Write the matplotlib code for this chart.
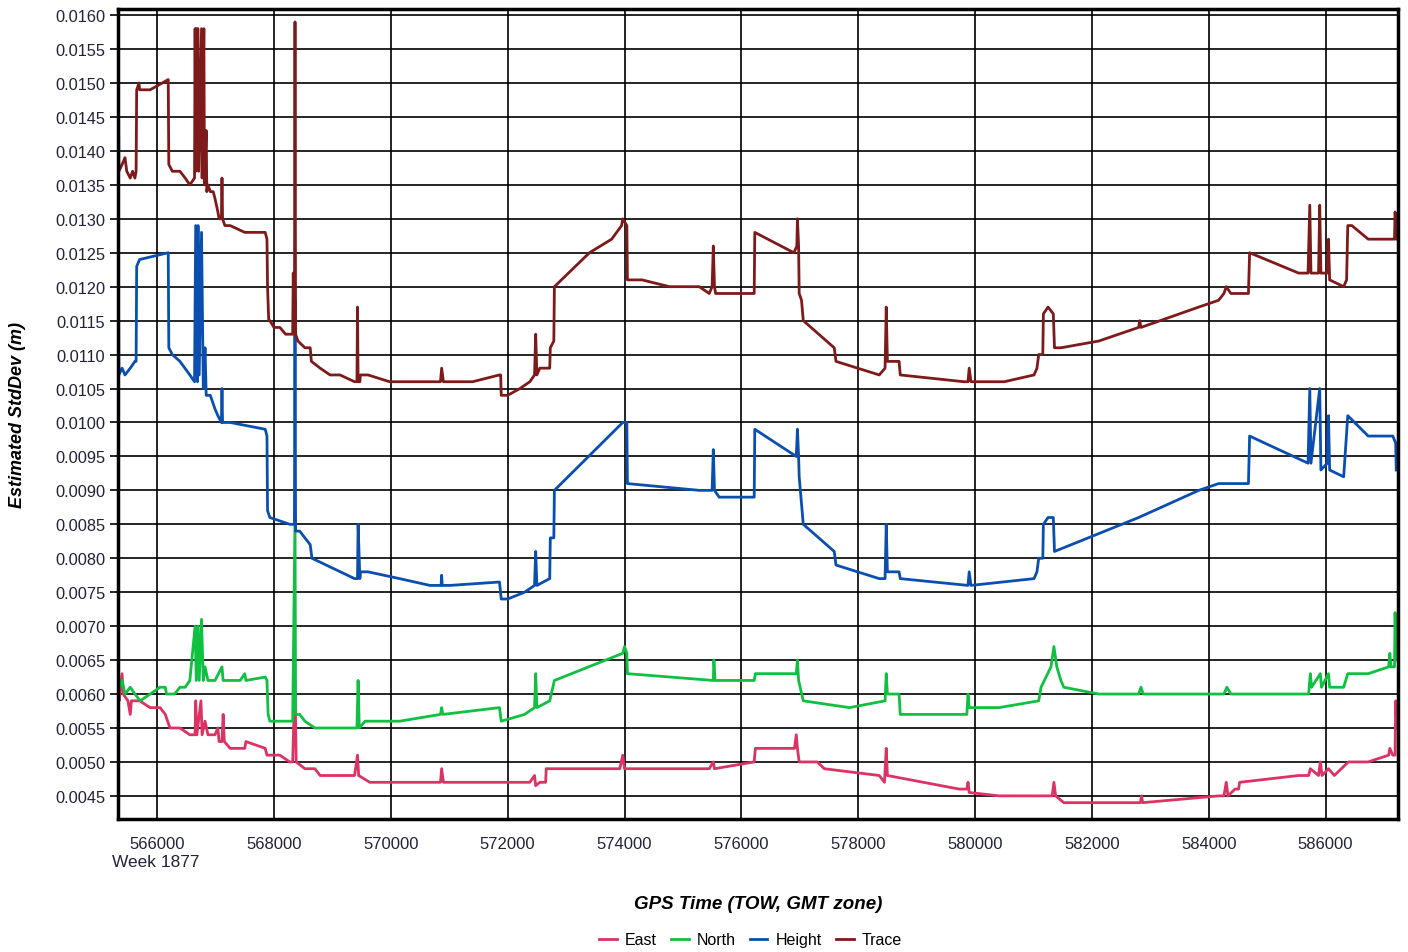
import matplotlib.pyplot as plt
from matplotlib.ticker import FormatStrFormatter

plt.rcParams["font.family"] = ["Liberation Sans", "DejaVu Sans"]

# GPS time of week (s) and estimated std dev (m)
trace_t = [565340, 565345, 565400, 565450, 565480, 565540, 565580, 565620, 565640, 565650,
           565690, 565700, 565880, 566190, 566200, 566260, 566390, 566480, 566560, 566640,
           566650, 566660, 566670, 566700, 566710, 566720, 566760, 566770, 566800, 566810,
           566840, 566850, 566870, 566910, 566960, 566990, 567040, 567060, 567100, 567110,
           567120, 567160, 567250, 567500, 567590, 567850, 567880, 567890, 567910, 567930,
           568000, 568100, 568200, 568320, 568330, 568350, 568360, 568370, 568410, 568530,
           568620, 568640, 568790, 568960, 569130, 569380, 569420, 569430, 569440, 569470,
           569480, 569610, 569980, 570670, 570850, 570870, 570900, 571010, 571400, 571860,
           571880, 571890, 572000, 572210, 572380, 572460, 572480, 572500, 572550, 572720,
           572730, 572790, 572800, 573400, 573780, 573950, 573970, 574040, 574050, 574300,
           574770, 575280, 575450, 575500, 575520, 575540, 575560, 575620, 576220, 576230,
           576900, 576950, 576960, 576980, 576990, 577030, 577060, 577590, 577620, 578360,
           578460, 578480, 578500, 578700, 578720, 579810, 579880, 579900, 579930, 580070,
           580500, 581010, 581060, 581090, 581160, 581170, 581250, 581340, 581360, 581470,
           582120, 582800, 582820, 582840, 583830, 584170, 584260, 584300, 584380, 584680,
           584700, 585540, 585700, 585730, 585750, 585880, 585900, 585920, 586030, 586050,
           586070, 586310, 586360, 586380, 586450, 586730, 587080, 587180, 587190, 587220]
trace_v = [0.0147, 0.0137, 0.0138, 0.0139, 0.0137, 0.0136, 0.0137, 0.0136, 0.0137, 0.0149,
           0.0150, 0.0149, 0.0149, 0.01505, 0.0138, 0.0137, 0.0137, 0.0136, 0.0135, 0.0136,
           0.0158, 0.0137, 0.0158, 0.0158, 0.0137, 0.0140, 0.0158, 0.0136, 0.0158, 0.0135,
           0.0143, 0.0134, 0.0135, 0.0134, 0.0134, 0.0133, 0.0131, 0.0130, 0.0130, 0.0136,
           0.0130, 0.0129, 0.0129, 0.0128, 0.0128, 0.0128, 0.0127, 0.0120, 0.0115, 0.0115,
           0.0114, 0.0114, 0.0113, 0.0113, 0.0122, 0.0113, 0.0159, 0.0113, 0.0112, 0.0111,
           0.0111, 0.0109, 0.0108, 0.0107, 0.0107, 0.0106, 0.0106, 0.0117, 0.0106, 0.0106,
           0.0107, 0.0107, 0.0106, 0.0106, 0.0106, 0.0108, 0.0106, 0.0106, 0.0106, 0.0107,
           0.0107, 0.0104, 0.0104, 0.0105, 0.0106, 0.0107, 0.0113, 0.0107, 0.0108, 0.0108,
           0.0111, 0.0112, 0.0120, 0.0125, 0.0127, 0.0129, 0.0130, 0.0129, 0.0121, 0.0121,
           0.0120, 0.0120, 0.0119, 0.0120, 0.0126, 0.0120, 0.0119, 0.0119, 0.0119, 0.0128,
           0.0125, 0.0126, 0.0130, 0.0126, 0.0119, 0.0118, 0.0115, 0.0111, 0.0109, 0.0107,
           0.0108, 0.0117, 0.0109, 0.0109, 0.0107, 0.0106, 0.0106, 0.0108, 0.0106, 0.0106,
           0.0106, 0.0107, 0.0108, 0.0110, 0.0110, 0.0116, 0.0117, 0.0116, 0.0111, 0.0111,
           0.0112, 0.0114, 0.0115, 0.0114, 0.0117, 0.0118, 0.0119, 0.0120, 0.0119, 0.0119,
           0.0125, 0.0122, 0.0122, 0.0132, 0.0122, 0.0122, 0.0132, 0.0122, 0.0122, 0.0127,
           0.0121, 0.0120, 0.0121, 0.0129, 0.0129, 0.0127, 0.0127, 0.0127, 0.0131, 0.0127]

height_t = [565340, 565345, 565400, 565450, 565540, 565620, 565640, 565650, 565700, 566190,
            566200, 566260, 566390, 566560, 566640, 566660, 566690, 566700, 566720, 566760,
            566790, 566820, 566840, 566910, 566990, 567040, 567100, 567110, 567120, 567250,
            567850, 567880, 567890, 567930, 568270, 568350, 568360, 568370, 568440, 568620,
            568650, 569380, 569430, 569440, 569470, 569480, 569610, 570150, 570670, 570860,
            570870, 570880, 571010, 571860, 571890, 572000, 572290, 572460, 572480, 572500,
            572720, 572730, 572790, 572800, 573970, 574040, 574050, 575280, 575500, 575520,
            575540, 575620, 576220, 576230, 576940, 576960, 576980, 576990, 577060, 577590,
            577620, 578360, 578460, 578480, 578500, 578700, 578720, 579880, 579900, 579930,
            581010, 581060, 581090, 581160, 581170, 581250, 581340, 581360, 582800, 583830,
            584170, 584680, 584700, 585700, 585730, 585750, 585900, 585920, 586030, 586050,
            586070, 586310, 586380, 586730, 587150, 587200, 587210]
height_v = [0.0118, 0.0107, 0.0108, 0.0107, 0.0108, 0.0109, 0.0109, 0.0123, 0.0124, 0.0125,
            0.0111, 0.0110, 0.0109, 0.0107, 0.0106, 0.0129, 0.0106, 0.0129, 0.0107, 0.0128,
            0.0105, 0.0111, 0.0104, 0.0104, 0.0102, 0.0101, 0.0100, 0.0105, 0.0100, 0.0100,
            0.0099, 0.0098, 0.0087, 0.0086, 0.0085, 0.0085, 0.0118, 0.0084, 0.0084, 0.0082,
            0.0080, 0.0077, 0.0077, 0.0085, 0.0077, 0.0078, 0.0078, 0.0077, 0.0076, 0.0076,
            0.00775, 0.0076, 0.0076, 0.00765, 0.0074, 0.0074, 0.0075, 0.0076, 0.0081, 0.0076,
            0.0077, 0.0083, 0.0083, 0.0090, 0.0100, 0.0100, 0.0091, 0.0090, 0.0090, 0.0096,
            0.0090, 0.0089, 0.0089, 0.0099, 0.0095, 0.0099, 0.0095, 0.0092, 0.0085, 0.0081,
            0.0079, 0.0077, 0.0077, 0.0085, 0.0078, 0.0078, 0.0077, 0.0076, 0.0078, 0.0076,
            0.0077, 0.0078, 0.0080, 0.0080, 0.0085, 0.0086, 0.0086, 0.0081, 0.0086, 0.0090,
            0.0091, 0.0091, 0.0098, 0.0094, 0.0105, 0.0094, 0.0105, 0.0093, 0.0094, 0.0101,
            0.0093, 0.0092, 0.0101, 0.0098, 0.0098, 0.0097, 0.0093]

north_t = [565340, 565360, 565400, 565450, 565540, 565620, 565710, 565880, 566050, 566140,
           566160, 566300, 566390, 566480, 566560, 566650, 566670, 566700, 566720, 566760,
           566790, 566820, 566870, 566990, 567110, 567130, 567420, 567500, 567520, 567850,
           567880, 567900, 567930, 568100, 568320, 568360, 568370, 568440, 568530, 568700,
           569420, 569440, 569460, 569560, 570150, 570850, 570870, 570890, 571860, 571890,
           572290, 572460, 572480, 572500, 572720, 572800, 573970, 574000, 574040, 574050,
           575520, 575530, 575550, 576220, 576240, 576940, 576960, 576980, 577060, 577850,
           578460, 578480, 578500, 578700, 578720, 579860, 579880, 579900, 580410, 581090,
           581130, 581300, 581350, 581400, 581470, 581520, 582120, 582800, 582840, 582880,
           584260, 584310, 584380, 585710, 585740, 585760, 585910, 585930, 586050, 586070,
           586310, 586380, 586730, 587080, 587100, 587120, 587180, 587190, 587210]
north_v = [0.0063, 0.0061, 0.0062, 0.0060, 0.0061, 0.0060, 0.0059, 0.0060, 0.0061, 0.0061,
           0.0060, 0.0060, 0.0061, 0.0061, 0.0062, 0.0070, 0.0062, 0.0070, 0.0062, 0.0071,
           0.0062, 0.0064, 0.0062, 0.0062, 0.0064, 0.0062, 0.0062, 0.0063, 0.0062, 0.00625,
           0.0062, 0.0057, 0.0056, 0.0056, 0.0056, 0.0086, 0.0057, 0.0057, 0.0056, 0.0055,
           0.0055, 0.0062, 0.0055, 0.0056, 0.0056, 0.0057, 0.0058, 0.0057, 0.0058, 0.0056,
           0.0057, 0.0058, 0.0063, 0.0058, 0.0059, 0.0062, 0.0066, 0.0067, 0.0066, 0.0063,
           0.0062, 0.0065, 0.0062, 0.0062, 0.0063, 0.0063, 0.0065, 0.0062, 0.0059, 0.0058,
           0.0059, 0.0063, 0.0060, 0.0060, 0.0057, 0.0057, 0.0060, 0.0058, 0.0058, 0.0059,
           0.0061, 0.0064, 0.0067, 0.0064, 0.0062, 0.0061, 0.0060, 0.0060, 0.0061, 0.0060,
           0.0060, 0.0061, 0.0060, 0.0060, 0.0063, 0.0061, 0.0063, 0.0061, 0.0063, 0.0061,
           0.0061, 0.0063, 0.0063, 0.0064, 0.0066, 0.0064, 0.0064, 0.0072, 0.0065]

east_t = [565340, 565350, 565400, 565420, 565500, 565540, 565560, 565700, 565880, 566050,
          566140, 566220, 566390, 566560, 566650, 566660, 566680, 566750, 566770, 566820,
          566870, 566990, 567040, 567060, 567110, 567130, 567150, 567250, 567500, 567520,
          567850, 567880, 568100, 568270, 568320, 568360, 568380, 568530, 568700, 568790,
          569380, 569430, 569450, 569640, 570670, 570850, 570870, 570900, 571860, 572380,
          572460, 572480, 572550, 572650, 572660, 573920, 573970, 574000, 575450, 575520,
          575540, 576220, 576240, 576910, 576940, 576960, 576990, 577300, 577420, 578360,
          578450, 578480, 578500, 579730, 579860, 579880, 579900, 580410, 581010, 581320,
          581350, 581380, 581520, 582120, 582830, 582850, 582870, 584170, 584260, 584300,
          584330, 584450, 584510, 584530, 585540, 585710, 585740, 585880, 585910, 585940,
          586050, 586150, 586390, 586730, 587080, 587100, 587150, 587190, 587200, 587220]
east_v = [0.0062, 0.0059, 0.0063, 0.0060, 0.0059, 0.0057, 0.0059, 0.0059, 0.0058, 0.0058,
          0.0057, 0.0055, 0.0055, 0.0054, 0.0054, 0.0059, 0.0054, 0.0059, 0.0054, 0.0056,
          0.0054, 0.0054, 0.0055, 0.0053, 0.0053, 0.0057, 0.0053, 0.0052, 0.0052, 0.0053,
          0.0052, 0.0051, 0.0051, 0.0050, 0.0050, 0.0062, 0.0050, 0.0049, 0.0049, 0.0048,
          0.0048, 0.0051, 0.0048, 0.0047, 0.0047, 0.0047, 0.0049, 0.0047, 0.0047, 0.0047,
          0.0048, 0.00465, 0.0047, 0.0047, 0.0049, 0.0049, 0.0051, 0.0049, 0.0049, 0.0050,
          0.0049, 0.0050, 0.0052, 0.0052, 0.0054, 0.0052, 0.0050, 0.0050, 0.0049, 0.0048,
          0.0047, 0.0052, 0.0048, 0.0046, 0.0046, 0.0047, 0.00455, 0.0045, 0.0045, 0.0045,
          0.0047, 0.0045, 0.0044, 0.0044, 0.0044, 0.0045, 0.0044, 0.0045, 0.0045, 0.0047,
          0.0045, 0.0046, 0.0046, 0.0047, 0.0048, 0.0048, 0.0049, 0.0048, 0.0050, 0.0048,
          0.0049, 0.0048, 0.0050, 0.0050, 0.0051, 0.0052, 0.0051, 0.0051, 0.0059, 0.0055]

y_ticks = [0.0045 + 0.0005 * i for i in range(24)]
x_ticks = list(range(566000, 588000, 2000))

fig = plt.figure(figsize=(14.08, 9.53), dpi=100)
ax = fig.add_axes([0.0838, 0.1396, 0.9091, 0.8499])

ax.plot(east_t, east_v, color="#dc3264", lw=2, label="East")
ax.plot(north_t, north_v, color="#10c040", lw=2, label="North")
ax.plot(height_t, height_v, color="#0a4fb0", lw=2, label="Height")
ax.plot(trace_t, trace_v, color="#7e1a1a", lw=2, label="Trace")

ax.set_xlim(565330, 587240)
ax.set_ylim(0.00416, 0.01609)
ax.set_yticks(y_ticks)
ax.set_xticks(x_ticks)
ax.yaxis.set_major_formatter(FormatStrFormatter("%.4f"))
ax.grid(True, color="black", lw=1.2)
ax.set_axisbelow(True)
for s in ax.spines.values():
    s.set_linewidth(2.5)
ax.tick_params(axis="y", length=6, width=1.2, labelsize=11.8, colors="black",
               labelcolor="#22223a", pad=3)
ax.tick_params(axis="x", length=0, labelsize=12, labelcolor="#22223a", pad=12)

ax.set_ylabel("Estimated StdDev (m)", fontsize=13, fontweight="bold", style="italic")
ax.yaxis.set_label_coords(-0.072, 0.5)
ax.set_xlabel("GPS Time (TOW, GMT zone)", fontsize=13.5, fontweight="bold", style="italic")
ax.xaxis.set_label_coords(0.5, -0.094)
fig.text(112 / 1408, 1 - 863 / 953, "Week 1877", fontsize=12.5, color="#22223a",
         ha="left", va="center")

fig.legend(loc="center", bbox_to_anchor=(0.533, 1 - 941 / 953), ncol=4, frameon=False,
           fontsize=11.5, handlelength=1.1, handletextpad=0.5, columnspacing=0.9)

fig.savefig("out.png", dpi=100)
